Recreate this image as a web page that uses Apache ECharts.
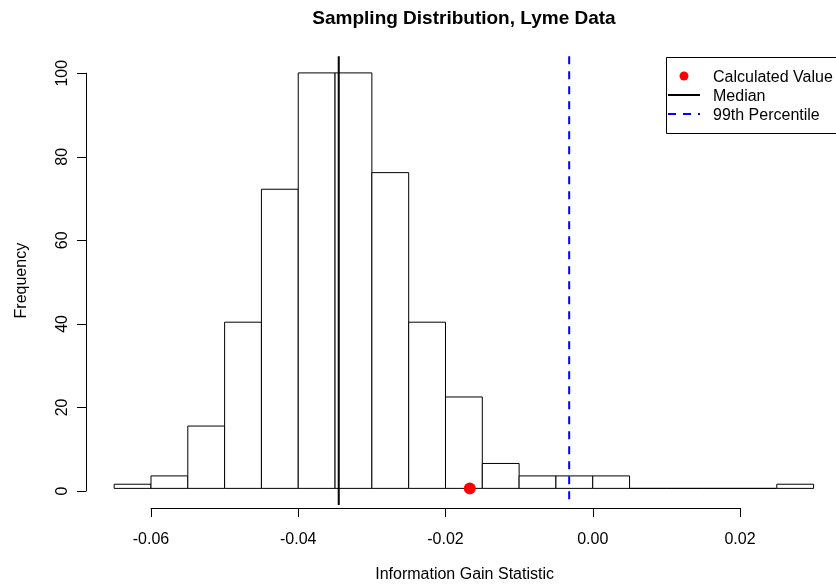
<!DOCTYPE html>
<html>
<head>
<meta charset="utf-8">
<script src="https://cdn.jsdelivr.net/npm/echarts@6/dist/echarts.min.js"></script>
<style>html,body{margin:0;padding:0;background:#fff;}#chart{width:836px;height:588px;}</style>
</head>
<body>
<div id="chart"></div>
<script>
// Histogram bins (edges) and counts
const binEdges = [-0.065, -0.06, -0.055, -0.05, -0.045, -0.04, -0.035, -0.03, -0.025, -0.02,
                  -0.015, -0.01, -0.005, 0.0, 0.005, 0.01, 0.015, 0.02, 0.025, 0.03];
const counts = [1, 3, 15, 40, 72, 100, 100, 76, 40, 22, 6, 3, 3, 3, 0, 0, 0, 0, 1];
const calculatedValue = -0.0167;
const medianValue = -0.0345;
const percentile99 = -0.0032;
const xTicks = [-0.06, 0.02, 0.02];   // min, max, interval of x tick labels
const yTicks = [0, 100, 20];          // min, max, interval of y tick labels
const legendNames = ['Calculated Value', 'Median', '99th Percentile'];

const histData = counts.map((c, i) => [binEdges[i], binEdges[i + 1], c]);

const FONT = 'Liberation Sans, Arial, Helvetica, sans-serif';
const chart = echarts.init(document.getElementById('chart'), null, {renderer: 'canvas'});

function vline(color, dash) {
  return function (params, api) {
    const x = api.coord([api.value(0), 0])[0];
    const cs = params.coordSys;
    return {
      type: 'line',
      shape: {x1: x, y1: cs.y, x2: x, y2: cs.y + cs.height},
      style: {stroke: color, lineWidth: 2, lineDash: dash}
    };
  };
}

const option = {
  backgroundColor: '#fff',
  animation: false,
  textStyle: {fontFamily: FONT, color: '#000'},
  grid: [
    {left: 86.2, top: 56.3, width: 749.8, height: 451.4, containLabel: false},
    {left: 151, top: 507, width: 589, height: 1, containLabel: false},
    {left: 86, top: 73.2, width: 1, height: 417.8, containLabel: false}
  ],
  xAxis: [
    {
      gridIndex: 0, type: 'value', min: -0.0688, max: 0.03304,
      axisLine: {show: false}, axisTick: {show: false}, axisLabel: {show: false}, splitLine: {show: false},
      name: 'Information Gain Statistic', nameLocation: 'middle', nameGap: 62,
      nameTextStyle: {fontFamily: FONT, fontSize: 16, color: '#000', padding: [0, 0, 0, 7]}
    },
    {
      gridIndex: 1, type: 'value', min: xTicks[0], max: xTicks[1], interval: xTicks[2],
      axisLine: {show: true, lineStyle: {color: '#000', width: 1}},
      axisTick: {show: true, length: 9, lineStyle: {color: '#000', width: 1}},
      axisLabel: {show: true, margin: 24, fontFamily: FONT, fontSize: 16, color: '#000',
                  formatter: v => v.toFixed(2)},
      splitLine: {show: false}
    },
    {gridIndex: 2, type: 'value', show: false, min: 0, max: 1}
  ],
  yAxis: [
    {
      gridIndex: 0, type: 'value', min: -4, max: 104,
      axisLine: {show: false}, axisTick: {show: false}, axisLabel: {show: false}, splitLine: {show: false},
      name: 'Frequency', nameLocation: 'middle', nameGap: 57,
      nameTextStyle: {fontFamily: FONT, fontSize: 16, color: '#000'}
    },
    {gridIndex: 1, type: 'value', show: false, min: 0, max: 1},
    {
      gridIndex: 2, type: 'value', min: yTicks[0], max: yTicks[1], interval: yTicks[2],
      axisLine: {show: true, lineStyle: {color: '#000', width: 1}},
      axisTick: {show: true, length: 9, lineStyle: {color: '#000', width: 1}},
      axisLabel: {show: true, rotate: 90, margin: 15, fontFamily: FONT, fontSize: 16, color: '#000'},
      splitLine: {show: false}
    }
  ],
  graphic: [
    {type: 'text', x: 464, y: 19, z: 10,
     style: {text: 'Sampling Distribution, Lyme Data', fontFamily: FONT, fontSize: 19, fontWeight: 'bold',
             fill: '#000', align: 'center', verticalAlign: 'middle'}},
    // legend box
    {type: 'rect', z: 10, shape: {x: 666.5, y: 57.5, width: 200, height: 76},
     style: {fill: '#fff', stroke: '#000', lineWidth: 1}},
    {type: 'circle', z: 11, shape: {cx: 684, cy: 76, r: 4.5}, style: {fill: '#ff0000'}},
    {type: 'line', z: 11, shape: {x1: 668, y1: 95, x2: 700, y2: 95}, style: {stroke: '#000', lineWidth: 2}},
    {type: 'line', z: 11, shape: {x1: 668, y1: 114, x2: 700, y2: 114},
     style: {stroke: '#0000ff', lineWidth: 2, lineDash: [8, 7]}},
    {type: 'text', z: 11, x: 713, y: 77.5, style: {text: legendNames[0], fontFamily: FONT, fontSize: 16, fill: '#000', verticalAlign: 'middle'}},
    {type: 'text', z: 11, x: 713, y: 96.5, style: {text: legendNames[1], fontFamily: FONT, fontSize: 16, fill: '#000', verticalAlign: 'middle'}},
    {type: 'text', z: 11, x: 713, y: 115.5, style: {text: legendNames[2], fontFamily: FONT, fontSize: 16, fill: '#000', verticalAlign: 'middle'}}
  ],
  series: [
    {
      type: 'custom', name: 'hist', xAxisIndex: 0, yAxisIndex: 0,
      data: histData,
      encode: {x: [0, 1], y: 2},
      renderItem: function (params, api) {
        const p0 = api.coord([api.value(0), 0]);
        const p1 = api.coord([api.value(1), api.value(2)]);
        return {
          type: 'rect',
          shape: {x: p0[0], y: p1[1], width: p1[0] - p0[0], height: p0[1] - p1[1]},
          style: {fill: '#fff', stroke: '#000', lineWidth: 1}
        };
      },
      z: 1
    },
    {
      type: 'custom', name: legendNames[1], xAxisIndex: 0, yAxisIndex: 0,
      data: [[medianValue]], encode: {x: 0},
      renderItem: vline('#000', null), z: 3
    },
    {
      type: 'custom', name: legendNames[2], xAxisIndex: 0, yAxisIndex: 0,
      data: [[percentile99]], encode: {x: 0},
      renderItem: vline('#0000ff', [8, 7]), z: 3
    },
    {
      type: 'scatter', name: legendNames[0], xAxisIndex: 0, yAxisIndex: 0,
      data: [[calculatedValue, 0]],
      symbol: 'circle', symbolSize: 12,
      itemStyle: {color: '#ff0000', opacity: 1},
      z: 4
    }
  ]
};
chart.setOption(option);
</script>
</body>
</html>
